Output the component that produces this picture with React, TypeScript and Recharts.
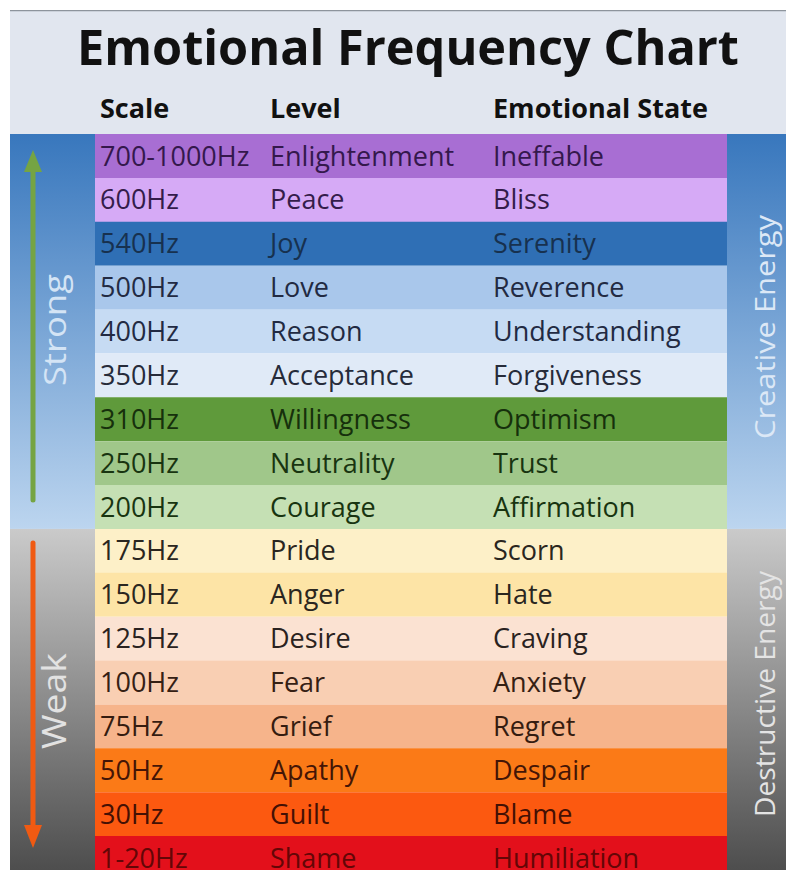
import React from "react";
import { BarChart, Bar, XAxis, YAxis, Cell, LabelList, Customized } from "recharts";

const scales = [
  "700-1000Hz", "600Hz", "540Hz", "500Hz", "400Hz", "350Hz", "310Hz", "250Hz", "200Hz",
  "175Hz", "150Hz", "125Hz", "100Hz", "75Hz", "50Hz", "30Hz", "1-20Hz",
];
const levels = [
  "Enlightenment", "Peace", "Joy", "Love", "Reason", "Acceptance", "Willingness", "Neutrality", "Courage",
  "Pride", "Anger", "Desire", "Fear", "Grief", "Apathy", "Guilt", "Shame",
];
const states = [
  "Ineffable", "Bliss", "Serenity", "Reverence", "Understanding", "Forgiveness", "Optimism", "Trust", "Affirmation",
  "Scorn", "Hate", "Craving", "Anxiety", "Regret", "Despair", "Blame", "Humiliation",
];
const spans = [1, 1, 1, 1, 1, 1, 1, 1, 1, 1, 1, 1, 1, 1, 1, 1, 1];
const headers = ["Scale", "Level", "Emotional State"];
const title = "Emotional Frequency Chart";
const sideLeft = ["Strong", "Weak"];
const sideRight = ["Creative Energy", "Destructive Energy"];

const rowFills = [
  "#a86ed3", "#d6aaf6", "#2f6fb5", "#a9c7eb", "#c6dbf3", "#e0eaf7", "#5f9a3b", "#a0c78a", "#c5e0b4",
  "#fdf0c8", "#fde4a6", "#fbe2d2", "#f9cfb3", "#f6b48b", "#fb7a17", "#fc5910", "#e3101b",
];
const textFills = [
  "#34184c", "#341c4a", "#17314f", "#222a42", "#222a42", "#262b3a", "#16300c", "#183410", "#183410",
  "#2a2620", "#2a2620", "#2a2220", "#352014", "#351c10", "#441506", "#441004", "#640606",
];

const data = scales.map((s, i) => ({ scale: s, level: levels[i], state: states[i], span: spans[i] }));

const W = 776;
const H = 870;
const TOP = 124;
const LEFT = 85;
const RIGHT = 59;
const FONT = "'Open Sans', 'Noto Sans', sans-serif";

const makeLabel = (dx: number, key: string) => (props: any) => {
  const { x, y, height, index } = props;
  const value = (data[index] as any)[key];
  return (
    <text
      x={x + dx}
      y={y + height / 2 + 9.5}
      fontFamily={FONT}
      fontSize={27}
      fill={textFills[index]}
    >
      {value}
    </text>
  );
};

const SideText = ({ cx, cy, len, size, fill, children }: any) => (
  <text
    x={0}
    y={0}
    transform={`translate(${cx}, ${cy}) rotate(-90)`}
    textAnchor="middle"
    fontFamily={FONT}
    fontSize={size}
    fill={fill}
    textLength={len}
    lengthAdjust="spacingAndGlyphs"
  >
    {children}
  </text>
);

const Decor = () => {
  const split = TOP + 9 * ((H - TOP) / 17);
  return (
    <g>
      <defs>
        <linearGradient id="blueL" x1="0" y1="0" x2="0" y2="1">
          <stop offset="0%" stopColor="#3877bd" />
          <stop offset="100%" stopColor="#bcd5ef" />
        </linearGradient>
        <linearGradient id="grayL" x1="0" y1="0" x2="0" y2="1">
          <stop offset="0%" stopColor="#cacaca" />
          <stop offset="100%" stopColor="#4a4a4a" />
        </linearGradient>
      </defs>
      <rect x={0} y={0} width={W} height={TOP} fill="#e1e6ef" />
      <line x1={0} y1={0.5} x2={W} y2={0.5} stroke="#8d949c" strokeWidth={1.5} />
      <text
        x={398}
        y={55}
        textAnchor="middle"
        fontFamily={FONT}
        fontWeight={700}
        fontSize={49}
        fill="#111"
        textLength={662}
        lengthAdjust="spacingAndGlyphs"
      >
        {title}
      </text>
      <text x={90} y={108} fontFamily={FONT} fontWeight={700} fontSize={27} fill="#111">{headers[0]}</text>
      <text x={260} y={108} fontFamily={FONT} fontWeight={700} fontSize={27} fill="#111">{headers[1]}</text>
      <text x={483} y={108} fontFamily={FONT} fontWeight={700} fontSize={27} fill="#111">{headers[2]}</text>

      <rect x={0} y={TOP} width={LEFT} height={split - TOP} fill="url(#blueL)" />
      <rect x={0} y={split} width={LEFT} height={H - split} fill="url(#grayL)" />
      <rect x={W - RIGHT} y={TOP} width={RIGHT} height={split - TOP} fill="url(#blueL)" />
      <rect x={W - RIGHT} y={split} width={RIGHT} height={H - split} fill="url(#grayL)" />

      <line x1={23} y1={155} x2={23} y2={490} stroke="#75a443" strokeWidth={5} strokeLinecap="round" />
      <polygon points="14,162 23,140 32,162" fill="#75a443" />
      <line x1={23} y1={533} x2={23} y2={822} stroke="#f05a12" strokeWidth={5} strokeLinecap="round" />
      <polygon points="14,815 23,838 32,815" fill="#f05a12" />

      <SideText cx={56} cy={320} len={112} size={31} fill="#d4e4f5">{sideLeft[0]}</SideText>
      <SideText cx={56} cy={691} len={96} size={32} fill="#e2e2e2">{sideLeft[1]}</SideText>
      <SideText cx={765} cy={317} len={224} size={28} fill="#dce8f6">{sideRight[0]}</SideText>
      <SideText cx={765} cy={684} len={246} size={28} fill="#e4e4e4">{sideRight[1]}</SideText>
    </g>
  );
};

export default function App() {
  return (
    <div
      style={{
        position: "absolute",
        left: 10,
        top: 10,
        width: W,
        height: 860,
        overflow: "hidden",
        background: "#fff",
      }}
    >
      <BarChart
        width={W}
        height={H}
        data={data}
        layout="vertical"
        margin={{ top: TOP, right: RIGHT, bottom: 0, left: LEFT }}
        barCategoryGap={0}
      >
        <Customized component={Decor} />
        <XAxis type="number" domain={[0, 1]} hide />
        <YAxis type="category" dataKey="scale" hide />
        <Bar dataKey="span" isAnimationActive={false}>
          {data.map((d, i) => (
            <Cell key={d.scale} fill={rowFills[i]} />
          ))}
          <LabelList dataKey="scale" content={makeLabel(5, "scale")} />
          <LabelList dataKey="level" content={makeLabel(175, "level")} />
          <LabelList dataKey="state" content={makeLabel(398, "state")} />
        </Bar>
      </BarChart>
    </div>
  );
}
